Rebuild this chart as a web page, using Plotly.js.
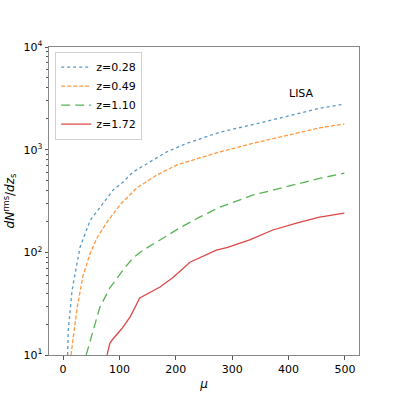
<!DOCTYPE html>
<html>
<head>
<meta charset="utf-8">
<script src="https://cdn.plot.ly/plotly-3.0.1.min.js"></script>
<style>
  body { margin: 0; background: #fff; }
  #plot { width: 399px; height: 399px; }
</style>
</head>
<body>
<div id="plot"></div>
<script>
// valores
const nomes = ["z=0.28", "z=0.49", "z=1.10", "z=1.72"];

const muZ028 = [8, 9, 16, 30, 48, 65, 89, 106, 124, 154, 184, 219, 242, 278, 349, 396, 455, 499];
const nZ028 = [10, 17, 43, 112, 205, 270, 405, 482, 605, 760, 950, 1150, 1260, 1480, 1820, 2100, 2530, 2770];

const muZ049 = [14, 25, 35, 48, 60, 78, 101, 131, 166, 202, 242, 278, 336, 396, 455, 499];
const nZ049 = [10, 29, 58, 98, 138, 197, 290, 425, 565, 710, 830, 950, 1150, 1380, 1630, 1780];

const muZ110 = [41, 53, 65, 83, 106, 124, 142, 172, 207, 242, 278, 336, 396, 455, 499];
const nZ110 = [10, 17, 29, 45, 67, 88, 105, 132, 173, 220, 275, 360, 435, 525, 590];

const muZ172 = [78, 83, 87, 104, 119, 136, 172, 195, 225, 242, 272, 292, 331, 372, 414, 455, 499];
const nZ172 = [10, 13, 14, 18, 23.5, 36, 46, 57, 80, 88, 105, 112, 132, 165, 193, 220, 241];

const xTicks = [0, 100, 200, 300, 400, 500];
const yTicks = [10, 100, 1000, 10000];
const yTickText = ["10<sup>1</sup>", "10<sup>2</sup>", "10<sup>3</sup>", "10<sup>4</sup>"];

const cores = ["rgba(31,119,180,0.75)", "rgba(255,127,14,0.8)", "rgba(44,160,44,0.8)", "rgba(214,39,40,0.85)"];
const tracos = ["dot", "4px,2px", "9px,5px", "solid"];
const xs = [muZ028, muZ049, muZ110, muZ172];
const ys = [nZ028, nZ049, nZ110, nZ172];

const data = xs.map((x, i) => ({
    x: x,
    y: ys[i],
    type: 'scatter',
    mode: 'lines',
    name: nomes[i],
    line: { color: cores[i], width: 1.3, dash: tracos[i] }
}));

const minorY = [];
for (let d = 10; d < 10000; d *= 10) {
    for (let k = 2; k <= 9; k++) minorY.push(d * k);
}

const fonte = { family: "DejaVu Sans", size: 11, color: "#000" };

Plotly.newPlot('plot', data, {
    width: 399,
    height: 399,
    margin: { l: 49, r: 40, t: 47, b: 44 },
    paper_bgcolor: '#fff',
    plot_bgcolor: '#fff',
    font: fonte,
    showlegend: true,
    legend: {
        x: 0.02, y: 0.985, xanchor: 'left', yanchor: 'top',
        bordercolor: '#d0d0d0', borderwidth: 1, bgcolor: 'rgba(255,255,255,0.8)',
        font: { family: "DejaVu Sans", size: 11, color: "#000" },
        tracegroupgap: 0
    },
    xaxis: {
        range: [-25, 525],
        tickvals: xTicks,
        ticks: 'outside', ticklen: 3.5, tickcolor: '#555',
        showgrid: false, zeroline: false,
        showline: true, mirror: true, linecolor: '#888', linewidth: 1,
        title: { text: "<i>μ</i>", font: { family: "DejaVu Sans", size: 12 }, standoff: 4 }
    },
    yaxis: {
        type: 'log',
        range: [1, 4],
        tickvals: yTicks,
        ticktext: yTickText,
        ticks: 'outside', ticklen: 3.5, tickcolor: '#555',
        minor: { tickvals: minorY, ticks: 'outside', ticklen: 2, tickcolor: '#555', showgrid: false },
        showgrid: false, zeroline: false,
        showline: true, mirror: true, linecolor: '#888', linewidth: 1,
        title: { text: "<i>dN</i><sup>rms</sup>/<i>dz</i><sub>s</sub>", font: { family: "DejaVu Sans", size: 12 }, standoff: 6 }
    },
    annotations: [{
        xref: 'paper', yref: 'paper', x: 0.862, y: 0.877,
        text: "LISA", showarrow: false,
        font: { family: "DejaVu Sans", size: 11, color: "#000" }
    }]
}, { staticPlot: true });
</script>
</body>
</html>
